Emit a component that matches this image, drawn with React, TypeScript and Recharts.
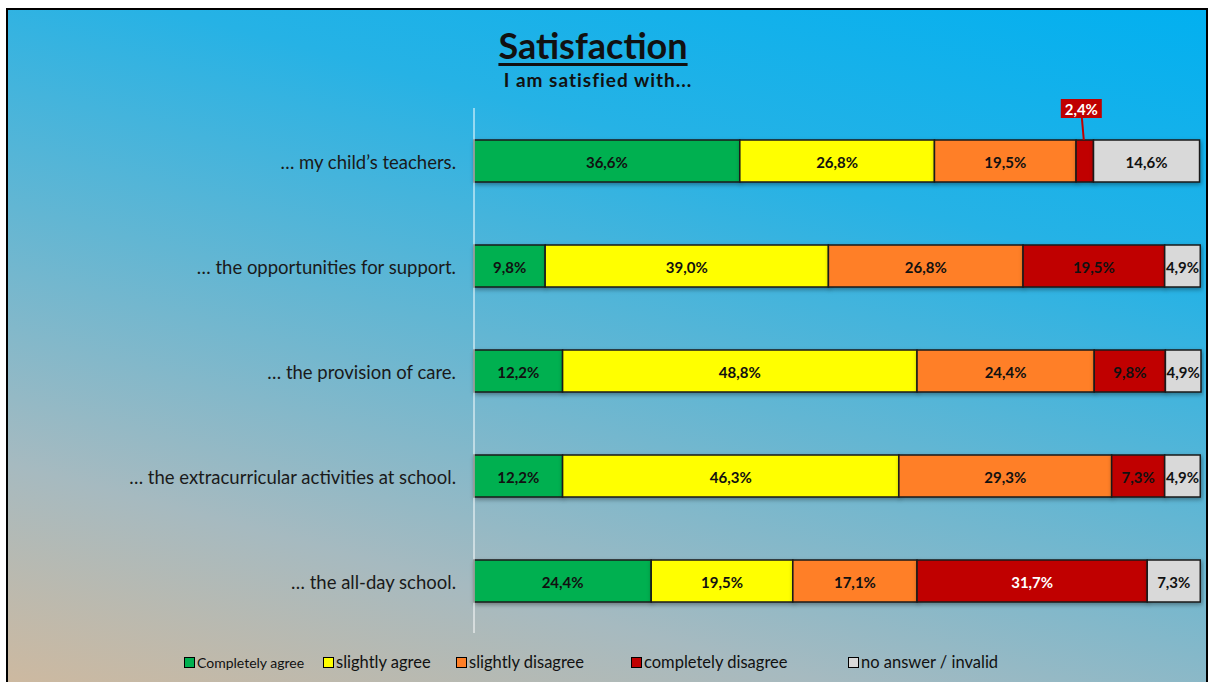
import React from 'react';
import { BarChart, Bar, XAxis, YAxis, LabelList } from 'recharts';

const categories = [
  '… my child’s teachers.',
  '… the opportunities for support.',
  '… the provision of care.',
  '… the extracurricular activities at school.',
  '… the all-day school.',
];
const completelyAgree = [36.6, 9.8, 12.2, 12.2, 24.4];
const slightlyAgree = [26.8, 39.0, 48.8, 46.3, 19.5];
const slightlyDisagree = [19.5, 26.8, 24.4, 29.3, 17.1];
const completelyDisagree = [2.4, 19.5, 9.8, 7.3, 31.7];
const noAnswer = [14.6, 4.9, 4.9, 4.9, 7.3];

const series = [
  { key: 'ca', name: 'Completely agree', color: '#00b050', values: completelyAgree },
  { key: 'sa', name: 'slightly agree', color: '#ffff00', values: slightlyAgree },
  { key: 'sd', name: 'slightly disagree', color: '#ff7f27', values: slightlyDisagree },
  { key: 'cd', name: 'completely disagree', color: '#c00000', values: completelyDisagree },
  { key: 'na', name: 'no answer / invalid', color: '#d9d9d9', values: noAnswer },
];

const data = categories.map((name, i) => {
  const row: any = { name };
  series.forEach((s) => { row[s.key] = s.values[i]; });
  return row;
});

// legend squares sit at uneven spots in the original
const legendLeft = [176, 315, 448, 623, 840];

const fmt = (v: number) => v.toFixed(1).replace('.', ',') + '%';
const FONT = 'Lato, "Open Sans", sans-serif';

const makeLabel = (seriesKey: string) => (props: any) => {
  const { x, y, width, height, value } = props;
  if (value == null) return null;
  const cx = x + width / 2;
  const cy = y + height / 2;
  if (value < 3) {
    // small slice: callout box above the bar
    return (
      <g>
        <line x1={cx - 3} y1={y - 23} x2={cx - 1} y2={y} stroke="#c00000" strokeWidth={2} />
        <rect x={cx - 24} y={y - 41} width={41} height={19} fill="#c00000" />
        <text x={cx - 3.5} y={y - 31} textAnchor="middle" dominantBaseline="central"
          fontFamily={FONT} fontWeight="bold" fontSize={15} fill="#fff">{fmt(value)}</text>
      </g>
    );
  }
  const white = seriesKey === 'cd' && value > 30;
  return (
    <text x={cx} y={cy + 1} textAnchor="middle" dominantBaseline="central"
      fontFamily={FONT} fontWeight="bold" fontSize={15} fill={white ? '#fff' : '#111'}>
      {fmt(value)}
    </text>
  );
};

const CategoryTick = (props: any) => {
  const { x, y, payload } = props;
  return (
    <text x={x - 10} y={y + 1} textAnchor="end" dominantBaseline="central"
      fontFamily={FONT} fontSize={18.5} fill="#1a1a1a">
      {payload.value}
    </text>
  );
};

export default function App() {
  return (
    <div
      style={{
        position: 'fixed',
        left: 6,
        top: 8,
        width: 1202,
        height: 674,
        boxSizing: 'border-box',
        border: '2px solid #000',
        borderBottom: 'none',
        background: 'linear-gradient(15deg, #cdb9a0 0%, #a6bac0 22%, #62b6d3 48%, #26b2e5 72%, #02b0f0 100%)',
        overflow: 'hidden',
        fontFamily: FONT,
      }}
    >
      <style>{`.recharts-bar-rectangle path { filter: drop-shadow(1px 2px 2px rgba(0,0,0,0.35)); }`}</style>
      <div style={{ position: 'absolute', left: 385, width: 400, top: 17, textAlign: 'center',
        fontSize: 36, fontWeight: 'bold', lineHeight: 1, color: '#111',
        textDecoration: 'underline', textDecorationThickness: 3, textUnderlineOffset: 4 }}>
        Satisfaction
      </div>
      <div style={{ position: 'absolute', left: 390, width: 400, top: 60, textAlign: 'center',
        fontSize: 19, fontWeight: 'bold', lineHeight: 1, color: '#111', letterSpacing: 1 }}>
        I am satisfied with...
      </div>
      <div style={{ position: 'absolute', left: 0, top: 0 }}>
        <BarChart width={1196} height={672} data={data} layout="vertical"
          margin={{ top: 98, right: 3, bottom: 49, left: 0 }} barSize={42}>
          <XAxis type="number" domain={[0, 100]} hide />
          <YAxis type="category" dataKey="name" width={466} axisLine={{ stroke: '#ffffff', strokeWidth: 1 }}
            tickLine={false} tick={<CategoryTick />} interval={0} />
          {series.map((s) => (
            <Bar key={s.key} dataKey={s.key} name={s.name} stackId="a" fill={s.color}
              stroke="#1a1a1a" strokeWidth={1.5} isAnimationActive={false}>
              <LabelList dataKey={s.key} content={makeLabel(s.key)} />
            </Bar>
          ))}
        </BarChart>
      </div>
      {series.map((s, i) => (
        <div key={s.key} style={{ position: 'absolute', left: legendLeft[i], top: 643,
          display: 'flex', alignItems: 'center', height: 18, color: '#111',
          fontSize: i === 0 ? 14 : 16.5 }}>
          <span style={{ display: 'inline-block', width: 9, height: 9, background: s.color,
            border: '1.5px solid #000', marginRight: 2 }} />
          <span>{s.name}</span>
        </div>
      ))}
    </div>
  );
}
